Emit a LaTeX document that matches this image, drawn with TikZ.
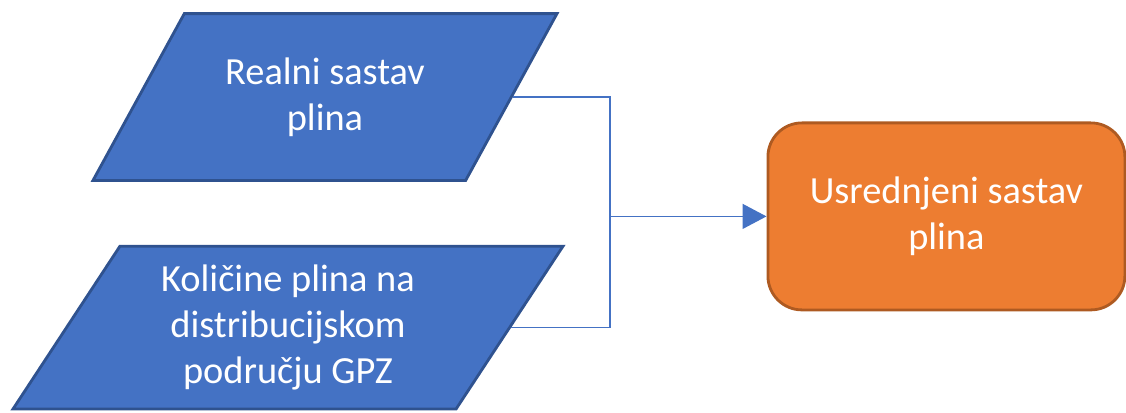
\documentclass[tikz,border=0pt]{standalone}
\usepackage{fontspec}
\setmainfont{Carlito}
\usepackage{tikz}
\usetikzlibrary{shapes.geometric, arrows.meta, positioning}
\definecolor{inblue}{HTML}{4472C4}
\definecolor{inblueline}{HTML}{2F528F}
\definecolor{outorange}{HTML}{ED7D31}
\definecolor{outorangeline}{HTML}{AE5A21}
\newcommand{\boxfont}{\fontsize{27.3}{32.7}\selectfont}

\begin{document}
\begin{tikzpicture}[
        datain/.style={trapezium, trapezium stretches body, fill=inblue, draw=inblueline, line width=2pt, text=white, align=center, font=\boxfont, inner xsep=0pt},
        result/.style={rectangle, rounded corners=0.85cm, fill=outorange, draw=outorangeline, line width=2pt, text=white, align=center, font=\boxfont, minimum width=8.925cm, minimum height=4.675cm},
        link/.style={draw=inblue, line width=1.1pt}
    ]
        \useasboundingbox (0,0) rectangle (28.15,-10.3);
        \node[datain, trapezium left angle=61.3, trapezium right angle=118.7, minimum width=11.6cm, inner ysep=1.1cm] (real) at (8.125,-2.425) {Realni sastav\\plina};
        \node[datain, trapezium left angle=56.7, trapezium right angle=123.3, minimum width=13.75cm, inner ysep=0.47cm] (kol) at (7.2,-8.19) {Količine plina na\\distribucijskom\\području GPZ};
        \node[result] (avg) at (23.66,-5.41) {Usrednjeni sastav\\plina};
        % Join both inputs
        \coordinate (join) at (15.25,-5.41);
        \draw[link] (real.east) -| (join);
        \draw[link] (kol.east) -| (join);
        \draw[link, -{Triangle[length=0.6cm, width=0.625cm]}] (join) -- (avg.west);
    \end{tikzpicture}
\end{document}
